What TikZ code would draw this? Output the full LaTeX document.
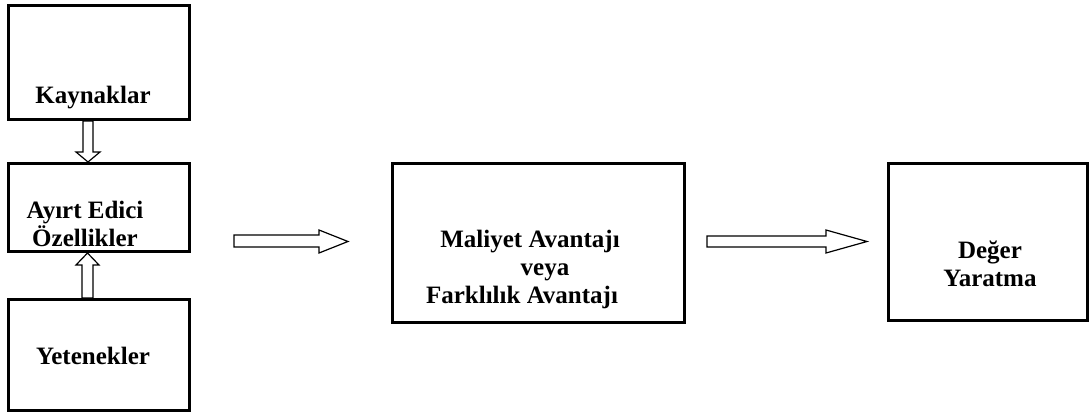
\documentclass[tikz,border=0pt]{standalone}
\usepackage{fontspec}
\setmainfont{Liberation Serif}
\usetikzlibrary{calc}

\tikzset{
  kutu/.style={draw, line width=3pt, inner sep=0pt},
  yazi/.style={font=\fontsize{25}{28}\selectfont\bfseries, align=center, inner sep=0pt},
  blokok/.style={draw, line width=1.2pt, line join=miter},
}

\begin{document}
\begin{tikzpicture}[x=1pt, y=-1pt]
\useasboundingbox (0,0) rectangle (1089,412);

% Kutular
\node[kutu, minimum width=181pt, minimum height=114pt] (kaynak) at (99,62.5) {};
\node[kutu, minimum width=181pt, minimum height=88pt] (ayirt) at (99,207.5) {};
\node[kutu, minimum width=181pt, minimum height=111pt] (yetenek) at (99,355) {};
\node[kutu, minimum width=292pt, minimum height=159pt] (avantaj) at (538.5,243) {};
\node[kutu, minimum width=199pt, minimum height=157pt] (deger) at (988,242) {};

% Yazilar
\node[yazi] (kaynakyazi) at (93,97.5) {Kaynaklar};
\node[yazi] (ayirtyazi) at (85,224) {Ayırt Edici\\Özellikler};
\node[yazi] (yetenekyazi) at (93,355.5) {Yetenekler};
\node[yazi] (avantajyazi) at (530,269) {Maliyet Avantajı\\\hspace*{30pt}veya\\Farklılık Avantajı\hspace*{16pt}};
\node[yazi] (degeryazi) at (990,264) {Değer\\Yaratma};

% Oklar
\draw[blokok] ($(kaynak.south)+(-16,0)$) -- ++(0,31) -- ++(-7,0)
  -- ($(ayirt.north)+(-11,0)$) -- ++(12,-10) -- ++(-7,0) -- ++(0,-31) -- cycle;

\draw[blokok] ($(yetenek.north)+(-17,0)$) -- ++(0,-33) -- ++(-6,0)
  -- ($(ayirt.south)+(-11.5,0)$) -- ++(11.5,12) -- ++(-6,0) -- ++(0,33) -- cycle;

\draw[blokok] ($(ayirt.east)+(43,27.5)$) -- ++(85,0) -- ++(0,-5)
  -- ($(avantaj.west)+(-43,-1.5)$) -- ++(-29,11.5) -- ++(0,-6) -- ++(-85,0) -- cycle;

\draw[blokok] ($(avantaj.east)+(21,-7)$) -- ++(119,0) -- ++(0,-6)
  -- ($(deger.west)+(-20,-0.5)$) -- ++(-41,11.5) -- ++(0,-6) -- ++(-119,0) -- cycle;

\end{tikzpicture}
\end{document}
